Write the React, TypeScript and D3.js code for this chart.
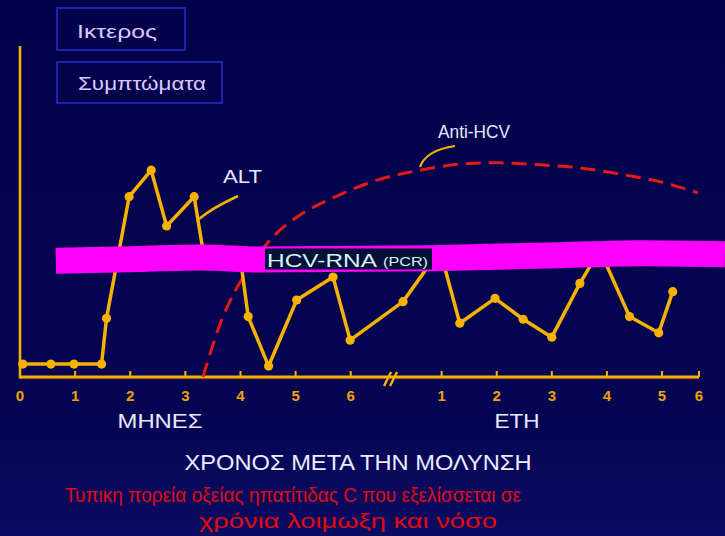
import React from "react";
import * as d3 from "d3";

// ---------- DATA ----------
// x-axis ticks
const monthTicks = [0, 1, 2, 3, 4, 5, 6];
const yearTicks = [1, 2, 3, 4, 5, 6];

// ALT (month segment): time in months, level in arbitrary units
const altMonthT = [0.05, 0.56, 0.98, 1.48, 1.57, 1.98, 2.38, 2.66, 3.16, 3.36, 3.99, 4.14, 4.51, 5.02, 5.68, 5.99];
const altMonthV = [0.39, 0.39, 0.39, 0.39, 1.77, 5.43, 6.23, 4.55, 5.43, 3.4, 3.67, 1.82, 0.33, 2.32, 3.01, 1.11];
// ALT (year segment): time in years
const altYearT = [0.3, 0.97, 1.33, 1.97, 2.48, 3.0, 3.51, 3.87, 4.41, 4.94, 5.29];
const altYearV = [2.27, 3.83, 1.62, 2.37, 1.74, 1.2, 2.82, 3.83, 1.82, 1.33, 2.57];

// Anti-HCV
const antiMonthT = [3.32, 3.68, 4.05, 4.59, 5.08, 5.63];
const antiMonthV = [0, 1.81, 3.01, 4.22, 4.88, 5.36];
const antiYearT = [-0.17, 0.61, 1.39, 2.06, 2.79, 3.51, 4.24, 4.97, 5.97];
const antiYearV = [5.93, 6.23, 6.42, 6.45, 6.39, 6.3, 6.11, 5.88, 5.55];

// HCV-RNA (PCR) positive band
const rnaMonthT = [0.65, 1.98, 3.27, 4.35];
const rnaMonthV = [3.5, 3.55, 3.6, 3.54];
const rnaYearT = [0.79, 3.15, 4.6, 6.7];
const rnaYearV = [3.58, 3.67, 3.73, 3.7];

const boxLabels = ["Ικτερος", "Συμπτώματα"];
const monthsLabel = "ΜΗΝΕΣ";
const yearsLabel = "ΕΤΗ";
const axisTitle = "ΧΡΟΝΟΣ ΜΕΤΑ ΤΗΝ ΜΟΛΥΝΣΗ";
const caption1 = "Τυπικη πορεία οξείας ηπατίτιδας  C που εξελίσσεται σε";
const caption2 = "χρόνια λοιμωξη και νόσο";

// ---------- LAYOUT ----------
const W = 725;
const H = 536;
const monthX = d3.scaleLinear().domain([0, 6]).range([20, 350.7]);
const yearX = d3.scaleLinear().domain([1, 5, 6]).range([441.6, 662, 699]);
const yS = d3.scaleLinear().domain([0, 10]).range([377, 45]);

type P = { x: number; y: number };
const toPts = (ts: number[], vs: number[], sx: (n: number) => number): P[] =>
  ts.map((t, i) => ({ x: sx(t), y: yS(vs[i]) }));

const altPts = [...toPts(altMonthT, altMonthV, monthX), ...toPts(altYearT, altYearV, yearX)];
const antiPts = [...toPts(antiMonthT, antiMonthV, monthX), ...toPts(antiYearT, antiYearV, yearX)];
const rnaPts = [...toPts(rnaMonthT, rnaMonthV, monthX), ...toPts(rnaYearT, rnaYearV, yearX)];

const straight = d3.line<P>().x((d) => d.x).y((d) => d.y);
const smooth = d3.line<P>().x((d) => d.x).y((d) => d.y).curve(d3.curveCatmullRom.alpha(0.5));
const bandLine = d3.line<P>().x((d) => d.x).y((d) => d.y).curve(d3.curveMonotoneX);

const GOLD = "#f7b200";
const TICK = "#f2a000";
const FONT = "'Liberation Sans', Arial, sans-serif";

export default function App() {
  const base = yS(0);
  const breakX = monthX(6.75);
  return (
    <svg width={W} height={H} style={{ position: "absolute", left: 0, top: 0, display: "block" }}>
      <defs>
        <linearGradient id="bg" x1="0" y1="0" x2="0" y2="1">
          <stop offset="0" stopColor="#02024a" />
          <stop offset="0.75" stopColor="#040452" />
          <stop offset="1" stopColor="#0b0c62" />
        </linearGradient>
      </defs>
      <rect x={0} y={0} width={W} height={H} fill="url(#bg)" />

      {/* boxes */}
      <rect x={57} y={8} width={128} height={42} fill="none" stroke="#2a2ac8" strokeWidth={1.6} />
      <rect x={57} y={62} width={165} height={41} fill="none" stroke="#2a2ac8" strokeWidth={1.6} />
      <text x={77} y={38} fontFamily={FONT} fontSize={19} fill="#dcc8ff" textLength={80} lengthAdjust="spacingAndGlyphs">
        {boxLabels[0]}
      </text>
      <text x={78} y={90} fontFamily={FONT} fontSize={19} fill="#dcc8ff" textLength={128} lengthAdjust="spacingAndGlyphs">
        {boxLabels[1]}
      </text>

      {/* axes */}
      <line x1={monthX(0)} y1={46} x2={monthX(0)} y2={base + 1.5} stroke={GOLD} strokeWidth={2.6} />
      <line x1={monthX(0)} y1={base} x2={yearX(6)} y2={base} stroke={GOLD} strokeWidth={3} />
      <line x1={monthX(0)} y1={base + 1.8} x2={yearX(6)} y2={base + 1.8} stroke="#e0503a" strokeWidth={0.8} opacity={0.6} />
      {monthTicks.slice(1).map((m) => (
        <line key={"mt" + m} x1={monthX(m)} x2={monthX(m)} y1={base} y2={base - 6} stroke={GOLD} strokeWidth={2} />
      ))}
      {yearTicks.map((yv) => (
        <line key={"yt" + yv} x1={yearX(yv)} x2={yearX(yv)} y1={base} y2={base - 6} stroke={GOLD} strokeWidth={2} />
      ))}
      {/* axis break */}
      <line x1={breakX - 8} y1={base + 9} x2={breakX - 1} y2={base - 5} stroke={GOLD} strokeWidth={2.5} />
      <line x1={breakX - 2} y1={base + 9} x2={breakX + 5} y2={base - 5} stroke={GOLD} strokeWidth={2.5} />

      {monthTicks.map((m) => (
        <text key={"ml" + m} x={monthX(m)} y={401} textAnchor="middle" fontFamily={FONT} fontWeight="bold" fontSize={15} fill={TICK}>
          {m}
        </text>
      ))}
      {yearTicks.map((yv) => (
        <text key={"yl" + yv} x={yearX(yv)} y={401} textAnchor="middle" fontFamily={FONT} fontWeight="bold" fontSize={15} fill={TICK}>
          {yv}
        </text>
      ))}

      <text x={160} y={428} textAnchor="middle" fontFamily={FONT} fontSize={21} fill="#e8e8ff" textLength={85} lengthAdjust="spacingAndGlyphs">
        {monthsLabel}
      </text>
      <text x={517} y={428} textAnchor="middle" fontFamily={FONT} fontSize={21} fill="#e8e8ff" textLength={45} lengthAdjust="spacingAndGlyphs">
        {yearsLabel}
      </text>
      <text x={358} y={470} textAnchor="middle" fontFamily={FONT} fontSize={22} fill="#ececff" textLength={347} lengthAdjust="spacingAndGlyphs">
        {axisTitle}
      </text>
      <text x={293} y={502} textAnchor="middle" fontFamily={FONT} fontSize={20} fill="#e00c0c" textLength={456} lengthAdjust="spacingAndGlyphs">
        {caption1}
      </text>
      <text x={348} y={528} textAnchor="middle" fontFamily={FONT} fontSize={20} fill="#e00c0c" textLength={298} lengthAdjust="spacingAndGlyphs">
        {caption2}
      </text>

      {/* Anti-HCV */}
      <path d={smooth(antiPts) || ""} fill="none" stroke="#e41a14" strokeWidth={3} strokeDasharray="15 8" />

      {/* ALT */}
      <path d={straight(altPts) || ""} fill="none" stroke={GOLD} strokeWidth={3.5} strokeLinejoin="round" />
      {altPts.map((p, i) => (
        <circle key={"a" + i} cx={p.x} cy={p.y} r={4.6} fill={GOLD} />
      ))}

      {/* HCV-RNA band */}
      <path d={bandLine(rnaPts) || ""} fill="none" stroke="#ff00ff" strokeWidth={26} strokeLinecap="butt" />
      <rect x={265} y={248.5} width={167} height={21} fill="#02103a" />
      <text x={267} y={267} fontFamily={FONT} fontSize={19} fill="#d8f4f4" textLength={110} lengthAdjust="spacingAndGlyphs">
        HCV-RNA
      </text>
      <text x={383} y={266} fontFamily={FONT} fontSize={12.5} fill="#d8f4f4" textLength={45} lengthAdjust="spacingAndGlyphs">
        (PCR)
      </text>

      {/* labels + leaders */}
      <text x={223} y={183} fontFamily={FONT} fontSize={18} fill="#e8e8ff" textLength={39} lengthAdjust="spacingAndGlyphs">
        ALT
      </text>
      <path d="M199,219 Q212,208 238,196" fill="none" stroke={GOLD} strokeWidth={2.5} />
      <text x={438} y={138} fontFamily={FONT} fontSize={18} fill="#e8e8ff" textLength={72} lengthAdjust="spacingAndGlyphs">
        Anti-HCV
      </text>
      <path d="M420,167 Q426,150 455,146" fill="none" stroke={GOLD} strokeWidth={2.2} />
    </svg>
  );
}
